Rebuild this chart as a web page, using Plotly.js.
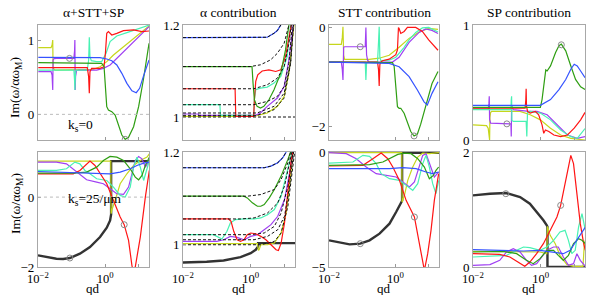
<!DOCTYPE html>
<html><head><meta charset="utf-8">
<script src="https://cdn.plot.ly/plotly-3.0.1.min.js"></script>
<style>html,body{margin:0;padding:0;background:#fff}#chart{width:598px;height:295px}</style>
</head><body><div id="chart"></div>
<script>
// every point is [log10(qd), Im(omega/alpha omega_M)]
// ---- panel 1: alpha+STT+SP, ks=0
const p1Yellow = [[-1.99,0.897],[-1.61,0.897],[-1.58,0.933],[-1.56,1.0],[-1.55,0.641],[-1.53,0.61],[-1.49,0.596],[-0.65,0.596],[-0.35,0.605],[-0.15,0.641],[0.05,0.709],[0.25,0.798],[0.55,0.91],[0.85,1.022],[1.14,1.135],[1.31,1.188]];
const p1Purple = [[-1.99,0.574],[-1.61,0.574],[-1.58,0.529],[-1.56,0.327],[-1.55,0.731],[-1.52,0.749],[-1.44,0.753],[-0.93,0.753],[-0.91,0.85],[-0.90,1.0],[-0.89,0.327],[-0.88,0.507],[-0.85,0.587],[-0.8,0.596],[-0.25,0.596],[-0.05,0.619],[0.15,0.664],[0.45,0.798],[0.75,0.933],[1.04,1.067],[1.31,1.179]];
const p1Aqua = [[-1.99,0.596],[-0.93,0.596],[-0.91,0.462],[-0.90,0.327],[-0.88,0.574],[-0.85,0.596],[-0.53,0.596],[-0.49,0.731],[-0.47,1.036],[-0.45,0.776],[-0.41,0.722],[-0.25,0.709],[-0.10,0.709],[0.03,0.821],[0.15,0.978],[0.35,1.054],[0.65,1.099],[1.05,1.157],[1.31,1.2]];
const p1Red = [[-1.99,0.628],[-0.53,0.628],[-0.49,0.507],[-0.47,0.283],[-0.45,0.574],[-0.40,0.619],[-0.15,0.619],[-0.03,0.641],[0.01,0.821],[0.05,1.09],[0.10,1.112],[0.20,1.067],[0.35,1.09],[0.55,1.126],[0.85,1.135],[1.10,1.112],[1.31,1.121]];
const p1Green = [[-1.99,0.695],[-0.10,0.686],[-0.03,0.641],[0.01,0.417],[0.05,0.103],[0.10,0.058],[0.20,0.036],[0.30,-0.009],[0.40,-0.143],[0.50,-0.278],[0.60,-0.336],[0.70,-0.309],[0.85,-0.166],[1.0,0.103],[1.14,0.462],[1.31,0.955]];
const p1Blue = [[-1.99,0.767],[-0.15,0.762],[0.05,0.744],[0.20,0.722],[0.35,0.664],[0.50,0.552],[0.65,0.417],[0.80,0.318],[0.93,0.291],[1.03,0.35],[1.14,0.507],[1.31,0.731]];
const p1Circles = [[-1.06,0.753],[0.60,-0.336]];

// ---- panel 2: alpha contribution, ks=0
const p2Blue = [[-2,1.1726],[0.29,1.1726],[0.49,1.1733],[0.69,1.182],[0.79,1.188],[0.89,1.2],[0.95,1.21]];
const p2BlueRef = [[-2,1.1726],[0.29,1.1726],[0.49,1.1733],[0.69,1.182],[0.79,1.188],[0.89,1.2],[0.95,1.21]];
const p2Green = [[-2,1.1097],[0.04,1.1097],[0.07,1.0736],[0.11,1.0375],[0.19,1.0231],[0.29,1.0195],[0.39,1.0231],[0.54,1.0375],[0.69,1.0592],[0.89,1.0953],[1.03,1.1458],[1.13,1.2]];
const p2GreenRef = [[-2,1.1097],[-0.01,1.1097],[0.29,1.1134],[0.59,1.1242],[0.79,1.1386],[0.99,1.1603],[1.13,1.2]];
const p2Red = [[-2,1.0614],[-0.46,1.0614],[-0.44,1.0014],[0.09,1.0014],[0.11,1.0375],[0.15,1.0773],[0.21,1.0917],[0.34,1.1],[0.54,1.1025],[0.74,1.0989],[0.89,1.1025],[1.03,1.1314],[1.15,1.18],[1.20,1.2]];
const p2RedRef = [[-2,1.0614],[0.09,1.0614],[0.49,1.07],[0.79,1.0845],[0.99,1.1097],[1.13,1.1603],[1.20,1.2]];
const p2Aqua = [[-2,1.0267],[-0.91,1.0267],[-0.89,1.0036],[0.09,1.0036],[0.11,1.0375],[0.15,1.0592],[0.29,1.0628],[0.49,1.065],[0.69,1.0736],[0.89,1.0881],[1.08,1.1314],[1.18,1.2]];
const p2AquaRef = [[-2,1.0267],[0.09,1.0267],[0.49,1.0339],[0.79,1.0448],[0.99,1.0664],[1.13,1.117],[1.23,1.2]];
const p2Purple = [[-2,1.0065],[-1.55,1.0065],[-1.54,1.0036],[0.14,1.0036],[0.29,1.0087],[0.49,1.0231],[0.79,1.0412],[0.99,1.0664],[1.13,1.1242],[1.26,1.2]];
const p2PurpleRef = [[-2,1.0087],[0.19,1.0087],[0.69,1.0231],[0.99,1.052],[1.18,1.117],[1.26,1.2]];
const p2Yellow = [[-2,1.0014],[0.09,1.0014],[0.49,1.0087],[0.79,1.0231],[0.99,1.0448],[1.13,1.0953],[1.23,1.1675],[1.28,1.2]];
const p2YellowRef = [[-2,1.0036],[0.19,1.0036],[0.69,1.0159],[0.99,1.0412],[1.18,1.117],[1.27,1.2]];
const p2Unity = [[-2,1.0],[1.31,1.0]];

// ---- panel 3: STT contribution, ks=0
const p3Yellow = [[-2,-0.342],[-1.63,-0.342],[-1.60,-0.2],[-1.58,0.013],[-1.56,-0.56],[-1.53,-0.644],[-0.79,-0.644],[-0.49,-0.62],[-0.19,-0.56],[0.11,-0.40],[0.41,-0.22],[0.71,-0.09],[1.0,-0.02],[1.28,-0.04]];
const p3Purple = [[-2,-0.698],[-1.63,-0.698],[-1.60,-0.85],[-1.58,-1.06],[-1.56,-0.40],[-1.53,-0.389],[-0.91,-0.389],[-0.89,0.0],[-0.87,-0.55],[-0.84,-0.66],[-0.79,-0.698],[-0.09,-0.698],[0.11,-0.60],[0.41,-0.30],[0.71,-0.10],[0.91,-0.03],[1.10,-0.06],[1.28,-0.12]];
const p3Aqua = [[-2,-0.698],[-0.91,-0.698],[-0.89,-1.06],[-0.87,-0.72],[-0.84,-0.698],[-0.54,-0.698],[-0.51,-0.3],[-0.49,0.013],[-0.47,-0.60],[-0.44,-0.67],[-0.19,-0.66],[0.01,-0.60],[0.26,-0.40],[0.41,-0.25],[0.61,-0.10],[0.81,-0.01],[1.0,0.0],[1.28,-0.09]];
const p3Red = [[-2,-0.698],[-0.54,-0.698],[-0.51,-0.85],[-0.49,-1.18],[-0.47,-0.75],[-0.44,-0.70],[-0.39,-0.67],[-0.19,-0.64],[0.01,-0.55],[0.06,-0.45],[0.09,0.0],[0.11,-0.02],[0.16,-0.12],[0.26,-0.08],[0.36,0.0],[0.61,0.0],[0.81,-0.08],[1.0,-0.25],[1.28,-0.46]];
const p3Green = [[-2,-0.698],[-0.09,-0.71],[-0.04,-0.78],[-0.01,-1.06],[0.06,-1.60],[0.11,-1.63],[0.16,-1.63],[0.26,-1.73],[0.36,-1.90],[0.46,-2.10],[0.56,-2.19],[0.66,-2.15],[0.76,-1.95],[0.91,-1.60],[1.10,-1.13],[1.28,-0.89]];
const p3Blue = [[-2,-0.698],[-0.19,-0.725],[0.11,-0.792],[0.41,-0.993],[0.66,-1.262],[0.86,-1.50],[0.96,-1.564],[1.10,-1.329],[1.28,-1.094]];
const p3Circles = [[-1.06,-0.389],[0.56,-2.188]];

// ---- panel 4: SP contribution, ks=0
const p4Yellow = [[-2,0.132],[-1.60,0.125],[-1.55,0.10],[-1.51,0.0],[-1.50,0.2],[-1.48,0.24],[-1.45,0.25],[-0.61,0.25],[-0.31,0.221],[-0.01,0.176],[0.29,0.103],[0.59,0.044],[0.89,0.015],[1.18,0.006],[1.31,0.0]];
const p4Purple = [[-2,0.271],[-1.55,0.271],[-1.53,0.32],[-1.52,0.382],[-1.51,0.18],[-1.48,0.147],[-0.88,0.141],[-0.87,0.03],[-0.86,0.30],[-0.81,0.265],[-0.41,0.253],[-0.11,0.25],[0.19,0.221],[0.49,0.132],[0.79,0.044],[1.08,0.015],[1.31,0.03]];
const p4Aqua = [[-2,0.265],[-0.88,0.265],[-0.87,0.35],[-0.86,0.382],[-0.85,0.17],[-0.81,0.162],[-0.43,0.162],[-0.41,0.03],[-0.39,0.24],[-0.31,0.25],[-0.01,0.235],[0.29,0.176],[0.59,0.088],[0.89,0.029],[1.08,0.015],[1.31,0.10]];
const p4Red = [[-2,0.279],[-0.46,0.279],[-0.44,0.35],[-0.43,0.447],[-0.42,0.30],[-0.39,0.25],[-0.31,0.235],[-0.16,0.25],[-0.06,0.221],[0.04,0.132],[0.09,0.059],[0.14,0.088],[0.24,0.074],[0.39,0.044],[0.59,0.029],[0.79,0.044],[0.99,0.103],[1.18,0.176],[1.31,0.241]];
const p4Green = [[-2,0.285],[-0.01,0.285],[0.04,0.353],[0.11,0.53],[0.15,0.612],[0.19,0.603],[0.29,0.647],[0.44,0.765],[0.54,0.824],[0.61,0.838],[0.74,0.779],[0.89,0.647],[1.03,0.529],[1.18,0.465],[1.31,0.441]];
const p4Blue = [[-2,0.303],[-0.01,0.303],[0.29,0.353],[0.54,0.441],[0.74,0.529],[0.89,0.618],[0.99,0.662],[1.08,0.647],[1.18,0.603],[1.31,0.544]];
const p4Circles = [[-1.0,0.141],[0.61,0.832]];

// ---- panel 5: alpha+STT+SP, ks=25/um
const p5Black = [[-2,-1.667],[-1.75,-1.714],[-1.45,-1.762],[-1.25,-1.771],[-1.05,-1.743],[-0.75,-1.619],[-0.45,-1.429],[-0.15,-1.143],[0.05,-0.876],[0.15,-0.667],[0.18,-0.495],[0.18,1.029],[1.32,1.029]];
const p5Yellow = [[-2,1.029],[0.17,1.029],[0.18,-0.476],[0.2,-0.381],[0.3,-0.095],[0.45,0.381],[0.65,0.667],[0.85,0.905],[1.05,1.048],[1.25,1.143],[1.32,1.238]];
const p5Purple = [[-2,1.0],[-1.45,1.0],[-1.15,0.952],[-0.85,0.714],[-0.55,0.495],[-0.25,0.429],[-0.05,0.381],[0.15,0.238],[0.35,0.095],[0.55,0.076],[0.7,0.286],[0.8,0.667],[0.9,1.048],[1.0,1.162],[1.1,1.095],[1.2,0.857],[1.32,1.048]];
const p5Aqua = [[-2,0.762],[-1.45,0.762],[-1.15,0.81],[-0.9,1.0],[-0.75,0.952],[-0.6,0.762],[-0.45,0.667],[-0.25,0.524],[0.05,0.476],[0.25,0.286],[0.45,0.048],[0.6,0.0],[0.75,0.286],[0.85,0.857],[0.95,1.143],[1.05,0.857],[1.15,0.476],[1.25,0.857],[1.32,1.048]];
const p5Red = [[-2,0.667],[-0.95,0.667],[-0.75,0.762],[-0.55,0.952],[-0.45,1.029],[-0.3,0.905],[-0.15,0.667],[0.05,0.381],[0.25,-0.095],[0.45,-0.571],[0.57,-0.79],[0.7,-1.238],[0.8,-1.952],[0.85,-2.2],[0.9,-2.0],[1.05,-1.143],[1.2,0.0],[1.32,0.762]];
const p5Green = [[-2,0.686],[-0.95,0.686],[-0.55,0.714],[-0.25,0.857],[-0.05,1.048],[0.15,1.162],[0.35,1.143],[0.55,1.048],[0.75,0.81],[0.9,0.571],[1.0,0.495],[1.1,0.619],[1.2,0.905],[1.32,1.143]];
const p5Blue = [[-2,0.733],[-0.65,0.705],[-0.15,0.686],[0.15,0.667],[0.45,0.714],[0.75,0.81],[0.95,0.905],[1.15,0.971],[1.32,1.0]];
const p5Circles = [[-1.05,-1.743],[0.57,-0.79]];

// ---- panel 6: alpha contribution, ks=25/um
const p6Black = [[-2,0.9617],[-1.3,0.9632],[-0.8,0.9661],[-0.3,0.9733],[0,0.9819],[0.15,0.9892],[0.22,0.9964],[0.22,1.0036],[1.32,1.0036]];
const p6Blue = [[-2,1.1661],[0.4,1.1661],[0.6,1.1697],[0.8,1.1769],[0.95,1.1877],[1.05,1.2]];
const p6BlueRef = [[-2,1.1661],[0.4,1.1661],[0.6,1.1697],[0.8,1.1769],[0.95,1.1877],[1.05,1.2]];
const p6Green = [[-2,1.1047],[-0.2,1.1047],[-0.1,1.1011],[0.05,1.0903],[0.2,1.083],[0.3,1.083],[0.4,1.0866],[0.55,1.1011],[0.7,1.1191],[0.9,1.148],[1.1,1.1841],[1.18,1.2]];
const p6GreenRef = [[-2,1.1047],[-0.1,1.1047],[0.3,1.1083],[0.7,1.1191],[0.9,1.1408],[1.1,1.1769],[1.18,1.2]];
const p6Red = [[-2,1.0556],[-0.65,1.0556],[-0.58,1.0505],[-0.5,1.0289],[-0.4,1.0108],[-0.3,1.0072],[-0.2,1.0108],[-0.1,1.0217],[0,1.0253],[0.15,1.0238],[0.3,1.0181],[0.45,1.0108],[0.6,1.0],[0.75,0.9892],[0.82,0.9877],[0.9,1.0036],[1.0,1.0469],[1.1,1.1191],[1.2,1.1841],[1.25,1.2]];
const p6RedRef = [[-2,1.0556],[-0.3,1.0556],[0.1,1.0578],[0.5,1.0686],[0.8,1.0903],[1.0,1.1264],[1.18,1.1877],[1.22,1.2]];
const p6Aqua = [[-2,1.0217],[-1.1,1.0217],[-1.0,1.0181],[-0.85,1.0123],[-0.7,1.0289],[-0.6,1.0469],[-0.45,1.0542],[-0.2,1.0556],[0.1,1.0556],[0.3,1.0578],[0.5,1.065],[0.7,1.0758],[0.9,1.1047],[1.1,1.1625],[1.22,1.2]];
const p6AquaRef = [[-2,1.0217],[0,1.0217],[0.4,1.0253],[0.7,1.0397],[0.9,1.0686],[1.1,1.1264],[1.25,1.2]];
const p6Purple = [[-2,1.0072],[-1.0,1.0072],[-0.8,1.0108],[-0.6,1.0181],[-0.4,1.0159],[-0.2,1.0108],[0,1.0181],[0.2,1.0217],[0.4,1.0325],[0.6,1.0433],[0.8,1.0614],[1.0,1.0975],[1.15,1.1552],[1.25,1.2]];
const p6PurpleRef = [[-2,1.0108],[0.1,1.0108],[0.5,1.0181],[0.8,1.0325],[1.0,1.0614],[1.15,1.1264],[1.27,1.2]];
const p6Yellow = [[-2,1.0022],[0.2,1.0022],[0.23,0.9877],[0.25,0.9892],[0.3,1.0],[0.5,1.0],[0.7,1.0036],[0.9,1.0253],[1.05,1.0686],[1.15,1.1264],[1.25,1.2]];
const p6YellowRef = [[-2,1.0],[0.3,1.0],[0.7,1.0072],[0.9,1.0253],[1.1,1.083],[1.25,1.1625],[1.3,1.2]];

// ---- panel 7: STT contribution, ks=25/um
const p7Black = [[-2,-3.834],[-1.68,-3.936],[-1.38,-4.009],[-1.06,-3.98],[-0.78,-3.834],[-0.48,-3.542],[-0.18,-3.105],[0.02,-2.595],[0.17,-2.23],[0.2,-2.1],[0.2,0],[1.31,0]];
const p7Yellow = [[-2,0],[0.19,0],[0.2,-2.157],[0.27,-1.866],[0.37,-1.21],[0.52,-0.627],[0.67,-0.19],[0.82,-0.015],[1.02,-0.044],[1.31,0]];
const p7Purple = [[-2,0],[-1.48,-0.044],[-1.18,-0.262],[-0.88,-0.627],[-0.58,-0.918],[-0.28,-0.991],[0.02,-1.064],[0.22,-1.283],[0.42,-1.501],[0.57,-1.283],[0.72,-0.627],[0.82,-0.117],[0.92,-0.044],[1.02,-0.481],[1.17,-1.064],[1.30,-0.845]];
const p7Aqua = [[-2,-0.452],[-1.28,-0.408],[-0.98,-0.117],[-0.78,-0.16],[-0.58,-0.481],[-0.43,-0.918],[-0.18,-1.137],[0.12,-1.21],[0.32,-1.429],[0.52,-1.647],[0.67,-1.356],[0.82,-0.481],[0.92,-0.117],[1.02,-0.627],[1.12,-1.356],[1.22,-1.793],[1.30,-1.21]];
const p7Red = [[-2,-0.583],[-0.98,-0.554],[-0.68,-0.262],[-0.43,-0.015],[-0.23,-0.262],[-0.08,-0.627],[0.12,-1.21],[0.32,-2.085],[0.57,-2.813],[0.67,-3.542],[0.82,-4.708],[0.87,-5.146],[0.97,-4.417],[1.07,-3.397],[1.17,-2.085],[1.30,-0.918]];
const p7Green = [[-2,-0.554],[-0.78,-0.525],[-0.38,-0.408],[-0.18,-0.262],[0.07,-0.073],[0.27,-0.015],[0.47,-0.044],[0.67,-0.262],[0.87,-0.627],[1.02,-1.137],[1.14,-0.991],[1.22,-0.773],[1.30,-0.627]];
const p7Blue = [[-2,-0.70],[-0.68,-0.70],[-0.18,-0.70],[0.22,-0.656],[0.62,-0.70],[0.92,-0.845],[1.12,-0.918],[1.30,-0.845]];
const p7Circles = [[-1.06,-3.98],[0.57,-2.813]];

// ---- panel 8: SP contribution, ks=25/um
const p8Black = [[-2,1.246],[-1.5,1.275],[-1.03,1.287],[-0.61,1.217],[-0.32,1.101],[-0.07,0.928],[0.08,0.812],[0.18,0.725],[0.20,0.70],[0.20,0],[1.32,0]];
const p8Yellow = [[-2,0.272],[-0.51,0.261],[-0.02,0.261],[0.18,0.232],[0.20,0.707],[0.28,0.551],[0.43,0.406],[0.57,0.203],[0.77,0.046],[0.97,0.012],[1.25,0.012],[1.29,0.406],[1.32,0.464]];
const p8Purple = [[-2,0.029],[-1.5,0.041],[-1.21,0.116],[-1.01,0.261],[-0.81,0.319],[-0.61,0.261],[-0.42,0.116],[-0.27,0.029],[-0.12,0.058],[0.03,0.174],[0.18,0.29],[0.38,0.348],[0.52,0.348],[0.67,0.174],[0.82,0.029],[0.97,0.058],[1.07,0.232],[1.17,0.116],[1.32,0.012]];
const p8Aqua = [[-2,0.174],[-1.5,0.186],[-1.01,0.203],[-0.71,0.29],[-0.51,0.348],[-0.32,0.336],[-0.02,0.29],[0.18,0.348],[0.38,0.464],[0.57,0.609],[0.72,0.638],[0.82,0.464],[0.92,0.232],[1.02,0.29],[1.12,0.696],[1.22,0.928],[1.32,0.638]];
const p8Red = [[-2,0.232],[-1.21,0.22],[-0.91,0.174],[-0.61,0.058],[-0.47,0.012],[-0.32,0.087],[-0.12,0.232],[0.08,0.406],[0.28,0.638],[0.48,0.87],[0.59,1.072],[0.72,1.449],[0.82,1.797],[0.89,1.942],[0.97,1.797],[1.07,1.275],[1.17,0.754],[1.27,0.406],[1.32,0.29]];
const p8Green = [[-2,0.261],[-1.11,0.272],[-0.71,0.232],[-0.42,0.116],[-0.22,0.058],[-0.02,0.145],[0.18,0.29],[0.38,0.29],[0.52,0.203],[0.67,0.116],[0.82,0.203],[0.97,0.406],[1.12,0.493],[1.22,0.464],[1.32,0.406]];
const p8Blue = [[-2,0.301],[-1.01,0.29],[-0.51,0.278],[-0.02,0.29],[0.38,0.261],[0.67,0.232],[0.87,0.29],[1.07,0.464],[1.22,0.609],[1.32,0.696]];
const p8Circles = [[-1.03,1.275],[0.59,1.072]];

// left-edge starting values (triangles) for ks=25/um
const startMarks = {5:[-1.667], 6:[0.9617], 7:[-3.834], 8:[1.246]};

const panelTitles = ['α+STT+SP','α contribution','STT contribution','SP contribution'];
const yRanges = {1:[-0.345,1.202],2:[0.95,1.2],3:[-2.27,0.05],4:[0,1.005],5:[-2,1.29],6:[0.952,1.2],7:[-5,0.03],8:[0,2]};
const yTicks = {1:[0,1],2:[1,1.2],3:[-2,0],4:[0,1],5:[-2,0],6:[1,1.2],7:[-5,0],8:[0,2]};
const yTickText = {1:['0','1'],2:['1','1.2'],3:['−2','0'],4:['0','1'],5:['−2','0'],6:['1','1.2'],7:['−5','0'],8:['0','2']};
const xTicks = [0.01, 1, 10];
const xTickText = ['10<sup>−2</sup>','10<sup>0</sup>',''];

const C = {yellow:'#c6d61c', purple:'#a040f2', aqua:'#48f2b4', red:'#ff1414', green:'#2e9e12', blue:'#3553ff', black:'#333333'};

const traces = [];
function ax(n){ return n===1 ? ['x','y'] : ['x'+n,'y'+n]; }
function addLine(n, pts, color, width, dash){
  const [xa,ya] = ax(n);
  traces.push({type:'scatter', mode:'lines', x:pts.map(p=>Math.pow(10,p[0])), y:pts.map(p=>p[1]),
    xaxis:xa, yaxis:ya, line:{color:color, width:width||1.2, dash:dash||'solid'},
    hoverinfo:'skip', showlegend:false});
}
function addCircles(n, pts){
  const [xa,ya] = ax(n);
  traces.push({type:'scatter', mode:'markers', x:pts.map(p=>Math.pow(10,p[0])), y:pts.map(p=>p[1]),
    xaxis:xa, yaxis:ya, marker:{symbol:'circle-open', size:6, color:'#8a8a8a', line:{width:1}},
    hoverinfo:'skip', showlegend:false});
}
function addStart(n, vals){
  const [xa,ya] = ax(n);
  traces.push({type:'scatter', mode:'markers', x:vals.map(()=>Math.pow(10,-2.09)), y:vals,
    xaxis:xa, yaxis:ya, cliponaxis:false, marker:{symbol:'triangle-right', size:6, color:'#222'},
    hoverinfo:'skip', showlegend:false});
}
const refDash = '3px,2px';

// panel 1
addLine(1,p1Yellow,C.yellow); addLine(1,p1Purple,C.purple); addLine(1,p1Aqua,C.aqua);
addLine(1,p1Red,C.red); addLine(1,p1Green,C.green); addLine(1,p1Blue,C.blue); addCircles(1,p1Circles);
// panel 2
addLine(2,p2Yellow,C.yellow); addLine(2,p2Purple,C.purple); addLine(2,p2Aqua,C.aqua);
addLine(2,p2Red,C.red); addLine(2,p2Green,C.green); addLine(2,p2Blue,C.blue);
[p2YellowRef,p2PurpleRef,p2AquaRef,p2RedRef,p2GreenRef,p2BlueRef,p2Unity].forEach(r=>addLine(2,r,'#111',1,refDash));
// panel 3
addLine(3,p3Yellow,C.yellow); addLine(3,p3Purple,C.purple); addLine(3,p3Aqua,C.aqua);
addLine(3,p3Red,C.red); addLine(3,p3Green,C.green); addLine(3,p3Blue,C.blue); addCircles(3,p3Circles);
// panel 4
addLine(4,p4Yellow,C.yellow); addLine(4,p4Purple,C.purple); addLine(4,p4Aqua,C.aqua);
addLine(4,p4Red,C.red); addLine(4,p4Green,C.green); addLine(4,p4Blue,C.blue); addCircles(4,p4Circles);
// panel 5
addLine(5,p5Black,C.black,2.4); addLine(5,p5Yellow,C.yellow); addLine(5,p5Purple,C.purple); addLine(5,p5Aqua,C.aqua);
addLine(5,p5Red,C.red); addLine(5,p5Green,C.green); addLine(5,p5Blue,C.blue); addCircles(5,p5Circles); addStart(5,startMarks[5]);
// panel 6
addLine(6,p6Black,C.black,2.4); addLine(6,p6Yellow,C.yellow); addLine(6,p6Purple,C.purple); addLine(6,p6Aqua,C.aqua);
addLine(6,p6Red,C.red); addLine(6,p6Green,C.green); addLine(6,p6Blue,C.blue);
[p6YellowRef,p6PurpleRef,p6AquaRef,p6RedRef,p6GreenRef,p6BlueRef].forEach(r=>addLine(6,r,'#111',1,refDash));
addStart(6,startMarks[6]);
// panel 7
addLine(7,p7Black,C.black,2.4); addLine(7,p7Yellow,C.yellow); addLine(7,p7Purple,C.purple); addLine(7,p7Aqua,C.aqua);
addLine(7,p7Red,C.red); addLine(7,p7Green,C.green); addLine(7,p7Blue,C.blue); addCircles(7,p7Circles); addStart(7,startMarks[7]);
// panel 8
addLine(8,p8Black,C.black,2.4); addLine(8,p8Yellow,C.yellow); addLine(8,p8Purple,C.purple); addLine(8,p8Aqua,C.aqua);
addLine(8,p8Red,C.red); addLine(8,p8Green,C.green); addLine(8,p8Blue,C.blue); addCircles(8,p8Circles); addStart(8,startMarks[8]);

const colDom = [[0.0635,0.2492],[0.306,0.4933],[0.5502,0.7341],[0.791,0.9783]];
const rowDom = [[0.5254,0.9153],[0.0949,0.4847]];
const serif = '"Liberation Serif", "DejaVu Serif", serif';
const layout = {width:598, height:295, margin:{l:0,r:0,t:0,b:0}, paper_bgcolor:'#fff', plot_bgcolor:'#fff',
  showlegend:false, annotations:[], shapes:[], font:{family:serif, color:'#000'}};
for(let n=1;n<=8;n++){
  const col=(n-1)%4, row=n<=4?0:1;
  const xk = n===1?'xaxis':'xaxis'+n, yk = n===1?'yaxis':'yaxis'+n;
  const [xa,ya] = ax(n);
  layout[xk] = {domain:colDom[col], anchor:ya, type:'log', range:[-2,1.31], tickmode:'array', tickvals:xTicks,
    ticktext:xTickText, showticklabels:row===1, ticks:'inside', ticklen:3, tickcolor:'#999', showgrid:false, zeroline:false,
    showline:true, mirror:true, linecolor:'#a8a8a8', linewidth:1, tickfont:{family:serif,size:12.5,color:'#000'}};
  layout[yk] = {domain:rowDom[row], anchor:xa, range:yRanges[n], tickmode:'array', tickvals:yTicks[n], ticktext:yTickText[n],
    ticks:'inside', ticklen:3, tickcolor:'#999', showgrid:false, zeroline:false, showline:true, mirror:true,
    linecolor:'#a8a8a8', linewidth:1, tickfont:{family:serif,size:13,color:'#000'}};
}
// zero reference lines
[['x','y'],['x5','y5']].forEach(([xa,ya])=>{
  layout.shapes.push({type:'line', xref:xa+' domain', yref:ya, x0:0, x1:1, y0:0, y1:0, line:{color:'#bbb', width:1, dash:'dot'}});
});
panelTitles.forEach((t,i)=>{
  layout.annotations.push({text:t, xref:'paper', yref:'paper', x:(colDom[i][0]+colDom[i][1])/2, y:1-12/295, showarrow:false,
    font:{family:serif, size:13.5, color:'#000'}, xanchor:'center', yanchor:'middle'});
});
['y','y5'].forEach((ya,i)=>{
  layout.annotations.push({text:'Im(ω/αω<sub>M</sub>)', xref:'paper', yref:'paper', x:16/598, y:i===0?1-88/295:1-204/295,
    textangle:-90, showarrow:false, font:{family:serif,size:13.5,color:'#000'}, xanchor:'center', yanchor:'middle'});
});
layout.annotations.push({text:'k<sub>s</sub>=0', xref:'paper', yref:'paper', x:66/598, y:1-126/295, showarrow:false,
  font:{family:serif,size:13.5,color:'#000'}});
layout.annotations.push({text:'k<sub>s</sub>=25/μm', xref:'paper', yref:'paper', x:66/598, y:1-210/295, showarrow:false,
  font:{family:serif,size:13.5,color:'#000'}});
colDom.forEach(d=>{
  layout.annotations.push({text:'qd', xref:'paper', yref:'paper', x:(d[0]+d[1])/2, y:1-288/295, showarrow:false,
    font:{family:serif,size:13,color:'#000'}, xanchor:'center', yanchor:'middle'});
});
Plotly.newPlot('chart', traces, layout, {staticPlot:true, displayModeBar:false});
</script></body></html>
